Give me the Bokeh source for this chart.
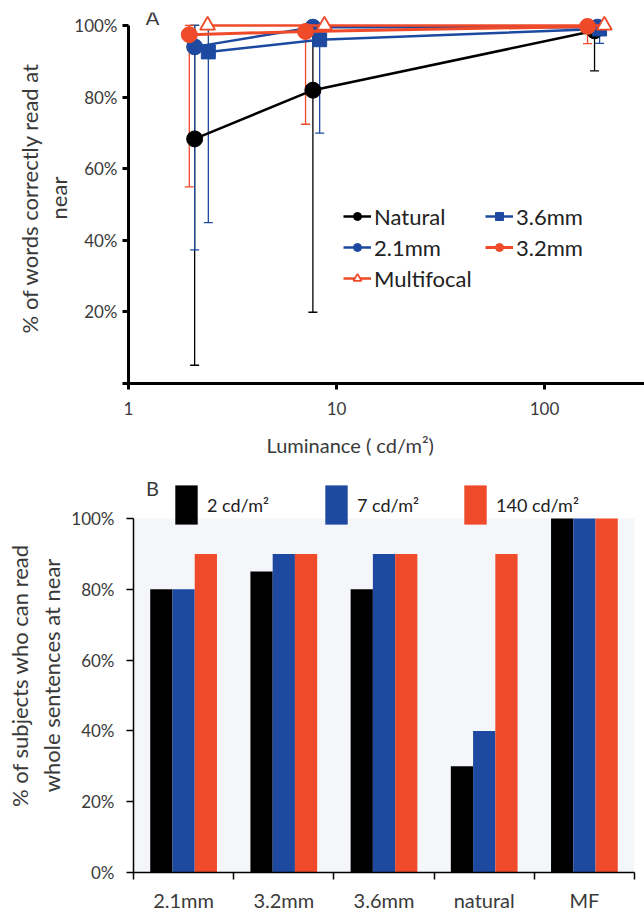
from bokeh.plotting import figure
from bokeh.models import (ColumnDataSource, Range1d, FixedTicker, Whisker, TeeHead,
                          Legend, LegendItem, Label, BoxAnnotation, PrintfTickFormatter, Title)
from bokeh.transform import dodge
from bokeh.embed import file_html
from bokeh.resources import INLINE

FONT = "Lato"
BLUE = "#1d4aa0"
RED = "#ef4a2a"
BLACK = "#000000"
TXT = "#3a3a3a"

# ---------------- Panel A data ----------------
natural_x = [2.08, 7.7, 174]
natural_y = [68.3, 81.9, 98.5]
natural_lo = [5.1, 19.9, 87.3]
natural_hi = [100, 100, 100]

mm21_x = [2.08, 7.7, 180]
mm21_y = [94.0, 99.5, 99.5]
mm21_lo = [37.3, 99.5, 99.5]
mm21_hi = [100, 100, 100]

mm36_x = [2.42, 8.3, 184]
mm36_y = [92.6, 96.0, 99.0]
mm36_lo = [44.9, 69.9, 95.0]
mm36_hi = [100, 100, 100]

mm32_x = [1.96, 7.1, 161]
mm32_y = [97.4, 98.3, 99.7]
mm32_lo = [54.9, 72.4, 94.9]
mm32_hi = [100, 100, 100]

mf_x = [2.40, 8.75, 194]
mf_y = [100, 100, 100]

a_yticks = [0, 20, 40, 60, 80, 100]
a_ylabels = ["", "20%", "40%", "60%", "80%", "100%"]
a_xticks = [1, 10, 100]

# ---------------- Panel B data ----------------
cats = ["2.1mm", "3.2mm", "3.6mm", "natural", "MF"]
lum2 = [80, 85, 80, 30, 100]
lum7 = [80, 90, 90, 40, 100]
lum140 = [90, 90, 90, 90, 100]
b_series_labels = ["2 cd/m\u00b2", "7 cd/m\u00b2", "140 cd/m\u00b2"]
b_yticks = [0, 20, 40, 60, 80, 100]
b_ylabels = ["0%", "20%", "40%", "60%", "80%", "100%"]


def style_axes(p, width):
    for ax in (p.xaxis[0], p.yaxis[0]):
        ax.axis_line_color = BLACK
        ax.axis_line_width = width
        ax.major_tick_line_color = BLACK
        ax.major_tick_line_width = width
        ax.minor_tick_line_color = None
        ax.major_label_text_font = FONT
        ax.major_label_text_font_size = "17px"
        ax.major_label_text_color = TXT
    p.xgrid.visible = False
    p.ygrid.visible = False
    p.outline_line_color = None


def side_title(p, text, place, size="22px", align="center", offset=0, standoff=0):
    t = Title(text=text, align=align, offset=offset, standoff=standoff, text_font=FONT,
              text_font_size=size, text_font_style="normal", text_color=TXT)
    p.add_layout(t, place)


# ================= Panel A =================
p1 = figure(width=644, height=470, x_axis_type="log",
            x_range=Range1d(1, 10 ** (516 / 208)), y_range=Range1d(0, 103.6),
            output_backend="svg", toolbar_location=None,
            min_border_left=128, min_border_right=0, min_border_top=12, min_border_bottom=85)
style_axes(p1, 3)
p1.xaxis.ticker = FixedTicker(ticks=a_xticks, minor_ticks=[])
p1.xaxis.formatter = PrintfTickFormatter(format="%d")
p1.xaxis.major_tick_out = 6
p1.xaxis.major_tick_in = 0
p1.xaxis.major_label_standoff = 12
p1.yaxis.ticker = FixedTicker(ticks=a_yticks, minor_ticks=[])
p1.yaxis.major_label_overrides = dict(zip(a_yticks, a_ylabels))
p1.yaxis.major_tick_out = 6
p1.yaxis.major_tick_in = 0
p1.yaxis.major_label_standoff = 5
p1.yaxis.bounds = (0, 100)


def whiskers(p, xs, ys, lo, hi, color, width):
    keep = [i for i in range(len(xs)) if lo[i] < ys[i]]
    src = ColumnDataSource(dict(x=[xs[i] for i in keep], lo=[lo[i] for i in keep],
                                hi=[hi[i] for i in keep]))
    w = Whisker(source=src, base="x", lower="lo", upper="hi", dimension="height",
                line_color=color, line_width=width,
                lower_head=TeeHead(size=9, line_color=color, line_width=width),
                upper_head=TeeHead(size=9, line_color=color, line_width=width))
    p.add_layout(w)


whiskers(p1, natural_x, natural_y, natural_lo, natural_hi, BLACK, 1.3)
whiskers(p1, mm21_x, mm21_y, mm21_lo, mm21_hi, BLUE, 1.3)
whiskers(p1, mm36_x, mm36_y, mm36_lo, mm36_hi, BLUE, 1.3)
whiskers(p1, mm32_x, mm32_y, mm32_lo, mm32_hi, RED, 1.3)

r_nat_l = p1.line(natural_x, natural_y, line_color=BLACK, line_width=2.5)
r_nat_m = p1.scatter(natural_x, natural_y, marker="circle", size=16, fill_color=BLACK, line_color=BLACK)
r_21_l = p1.line(mm21_x, mm21_y, line_color=BLUE, line_width=2.5)
r_21_m = p1.scatter(mm21_x, mm21_y, marker="circle", size=16, fill_color=BLUE, line_color=BLUE)
r_36_l = p1.line(mm36_x, mm36_y, line_color=BLUE, line_width=2.5)
r_36_m = p1.scatter(mm36_x, mm36_y, marker="square", size=14, fill_color=BLUE, line_color=BLUE)
r_32_l = p1.line(mm32_x, mm32_y, line_color=RED, line_width=3)
r_32_m = p1.scatter(mm32_x, mm32_y, marker="circle", size=16, fill_color=RED, line_color=RED)
r_mf_l = p1.line(mf_x, mf_y, line_color=RED, line_width=2.5)
r_mf_m = p1.scatter(mf_x, mf_y, marker="triangle", size=15, fill_color="white", line_color=RED, line_width=1.8)

leg_kw = dict(orientation="vertical", background_fill_alpha=0, border_line_color=None,
              padding=0, margin=0, spacing=4, glyph_width=28, glyph_height=20,
              label_standoff=3, label_text_font=FONT, label_text_font_size="22px",
              label_text_color="#222222", label_height=20)
leg_a1 = Legend(items=[LegendItem(label="Natural", renderers=[r_nat_l, r_nat_m]),
                       LegendItem(label="2.1mm", renderers=[r_21_l, r_21_m]),
                       LegendItem(label="Multifocal", renderers=[r_mf_l, r_mf_m])],
                location=(215, 91.5), **leg_kw)
leg_a2 = Legend(items=[LegendItem(label="3.6mm", renderers=[r_36_l, r_36_m]),
                       LegendItem(label="3.2mm", renderers=[r_32_l, r_32_m])],
                location=(357, 122.5), **leg_kw)
p1.add_layout(leg_a1)
p1.add_layout(leg_a2)

lab_kw = dict(x_units="screen", y_units="screen", text_font=FONT, text_color=TXT,
              text_align="center", text_baseline="middle")
p1.add_layout(Label(x=24, y=367, text="A", text_font_size="20px", **lab_kw))
side_title(p1, "near", "left", standoff=0)
side_title(p1, "% of words correctly read at", "left", standoff=0)
side_title(p1, "Luminance ( cd/m\u00b2)", "below", size="20px", align="left", offset=138, standoff=27)

# ================= Panel B =================
centers = [i + 0.5 for i in range(len(cats))]
bsrc = ColumnDataSource(dict(x=centers, v2=lum2, v7=lum7, v140=lum140))

p2 = figure(width=644, height=444, x_range=Range1d(0, len(cats)), y_range=Range1d(0, 111.3),
            output_backend="svg", toolbar_location=None,
            min_border_left=133, min_border_right=10, min_border_top=8, min_border_bottom=39)
style_axes(p2, 1.5)
p2.add_layout(BoxAnnotation(bottom=0, top=100, fill_color="#f5f6fa", fill_alpha=1,
                            line_color=None, level="underlay"))

bw = 0.222
rb1 = p2.vbar(x=dodge("x", -bw, range=p2.x_range), top="v2", width=bw, source=bsrc,
              fill_color=BLACK, line_color=None)
rb2 = p2.vbar(x=dodge("x", 0, range=p2.x_range), top="v7", width=bw, source=bsrc,
              fill_color=BLUE, line_color=None)
rb3 = p2.vbar(x=dodge("x", bw, range=p2.x_range), top="v140", width=bw, source=bsrc,
              fill_color=RED, line_color=None)

p2.xaxis.ticker = FixedTicker(ticks=centers, minor_ticks=list(range(len(cats) + 1)))
p2.xaxis.major_label_overrides = dict(zip(centers, cats))
p2.xaxis.major_label_text_font_size = "20px"
p2.xaxis.major_tick_out = 0
p2.xaxis.major_tick_in = 0
p2.xaxis.minor_tick_line_color = BLACK
p2.xaxis.minor_tick_line_width = 1.5
p2.xaxis.minor_tick_out = 7
p2.xaxis.minor_tick_in = 0
p2.xaxis.major_label_standoff = 8
p2.yaxis.ticker = FixedTicker(ticks=b_yticks, minor_ticks=[])
p2.yaxis.major_label_overrides = dict(zip(b_yticks, b_ylabels))
p2.yaxis.major_tick_out = 7
p2.yaxis.major_tick_in = 0
p2.yaxis.major_label_standoff = 12
p2.yaxis.bounds = (0, 100)

bleg_kw = dict(orientation="vertical", background_fill_alpha=0, border_line_color=None,
               padding=0, margin=0, glyph_width=28, glyph_height=49, label_standoff=7,
               label_text_font=FONT, label_text_font_size="18px", label_text_color="#222222")
for r, lab, lx in zip([rb1, rb2, rb3], b_series_labels, [39, 189, 328]):
    p2.add_layout(Legend(items=[LegendItem(label=lab, renderers=[r])], location=(lx, 343), **bleg_kw))

p2.add_layout(Label(x=19, y=385, text="B", text_font_size="20px", **lab_kw))
side_title(p2, "whole sentences at near", "left", standoff=7)
side_title(p2, "% of subjects who can read", "left", standoff=0)

# two separate roots stacked vertically (no frame alignment between the panels)
open("out.html", "w").write(file_html([p1, p2], INLINE))
